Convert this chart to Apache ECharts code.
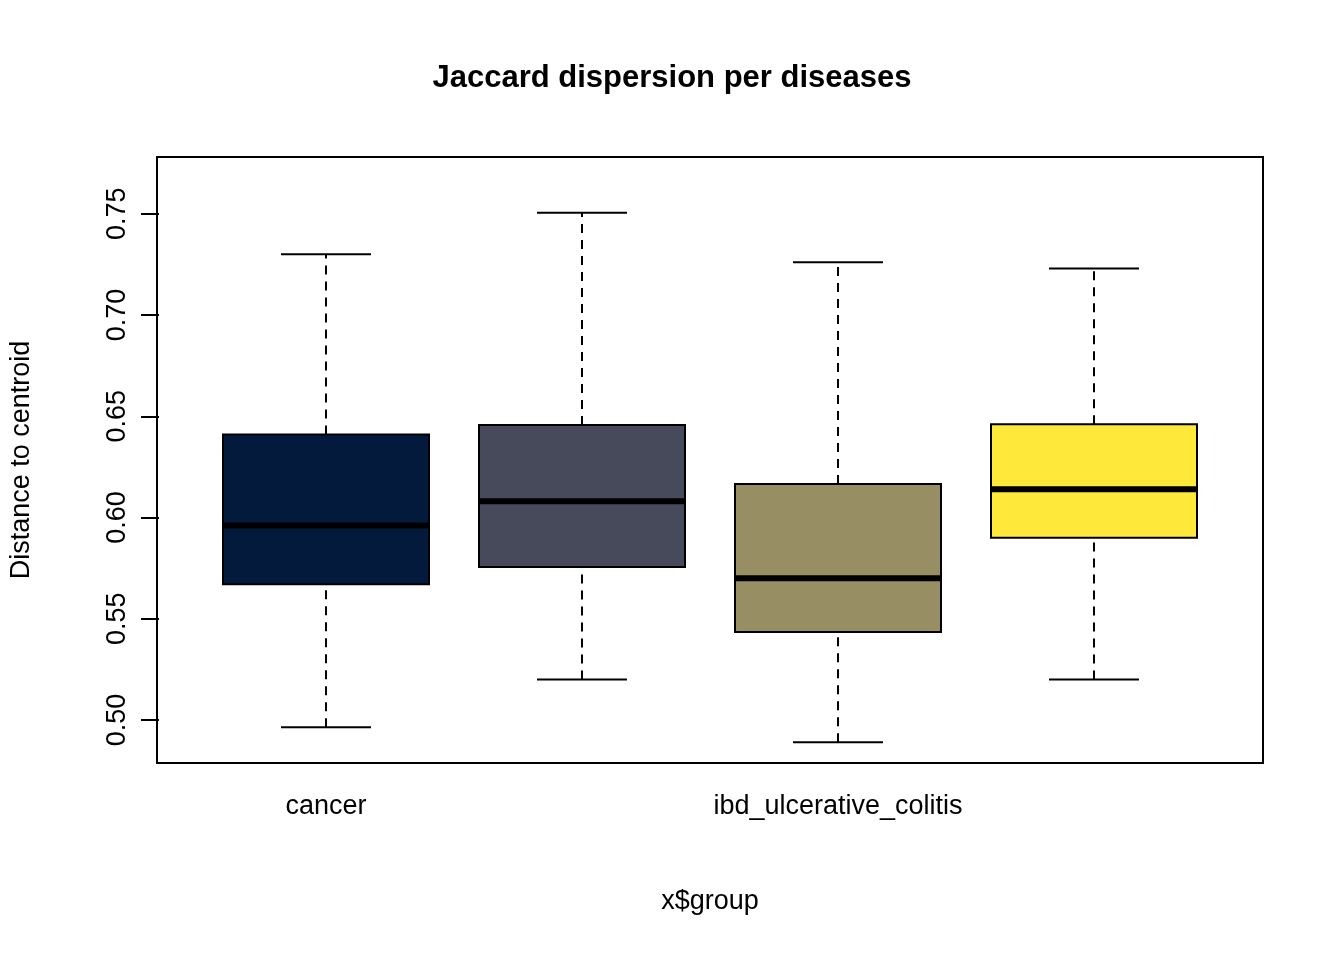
<!DOCTYPE html>
<html><head><meta charset="utf-8">
<script src="https://cdn.jsdelivr.net/npm/echarts@6/dist/echarts.min.js"></script>
<style>html,body{margin:0;background:#fff}#c{width:1344px;height:960px}</style>
</head><body><div id="c"></div>
<script>
var categories = ['cancer', 'cirrhosis', 'ibd_ulcerative_colitis', 't2d'];
// [low whisker, q1, median, q3, high whisker]
var boxStats = [
  [0.4965, 0.567, 0.596, 0.641, 0.730],
  [0.520, 0.5756, 0.608, 0.6457, 0.7505],
  [0.489, 0.5435, 0.570, 0.6166, 0.726],
  [0.520, 0.590, 0.614, 0.646, 0.723]
];
var boxColors = ['#041a3d', '#464a5b', '#988e63', '#fee83a'];
var outliers = [[2, 0.767], [2, 0.760], [2, 0.752], [3, 0.7367], [3, 0.7327]];
var yTicks = [0.50, 0.55, 0.60, 0.65, 0.70, 0.75];
var yMin = 0.4788, yMax = 0.778;

var font = 'Liberation Sans, Arial, sans-serif';
var chart = echarts.init(document.getElementById('c'));
var option = {
  animation: false,
  title: {text: 'Jaccard dispersion per diseases', left: 'center', top: 58,
    textStyle: {fontFamily: font, fontSize: 31, fontWeight: 'bold', color: '#000'}},
  grid: [
    {left: 157, right: 81, top: 157, height: 606},
    {left: 198, width: 1024, top: 157, height: 606}
  ],
  xAxis: [
    {gridIndex: 0, type: 'value', min: 0, max: 1, show: false},
    {gridIndex: 1, type: 'category', data: categories,
      axisLine: {show: false},
      axisTick: {alignWithLabel: true, length: 18, lineStyle: {color: '#000', width: 2}},
      axisLabel: {margin: 30, fontFamily: font, fontSize: 27, color: '#000'},
      name: 'x$group', nameLocation: 'middle', nameGap: 125,
      nameTextStyle: {fontFamily: font, fontSize: 27, color: '#000'}}
  ],
  yAxis: [
    {gridIndex: 0, type: 'value', min: yMin, max: yMax,
      axisLine: {show: false}, splitLine: {show: false},
      axisTick: {show: true, length: 18, customValues: yTicks, lineStyle: {color: '#000', width: 2}},
      axisLabel: {customValues: yTicks, rotate: 90, margin: 28, fontFamily: font, fontSize: 27, color: '#000',
        formatter: function (v) { return v.toFixed(2); }},
      name: 'Distance to centroid', nameLocation: 'middle', nameGap: 124,
      nameTextStyle: {fontFamily: font, fontSize: 27, color: '#000'}},
    {gridIndex: 1, type: 'value', min: yMin, max: yMax, show: false}
  ],
  graphic: [{type: 'rect', shape: {x: 157, y: 157, width: 1106, height: 606},
    style: {fill: null, stroke: '#000', lineWidth: 2}, z: 10}],
  series: [
    {type: 'custom', xAxisIndex: 1, yAxisIndex: 1,
      data: boxStats.map(function (s, i) { return [i].concat(s); }),
      renderItem: function (params, api) {
        var i = api.value(0);
        var x = api.coord([i, 0])[0];
        var y = function (k) { return api.coord([i, api.value(k)])[1]; };
        var hw = 103, cw = 45;
        var ls = {stroke: '#000', lineWidth: 2};
        return {type: 'group', children: [
          {type: 'line', shape: {x1: x, y1: y(1), x2: x, y2: y(2)}, style: {stroke: '#000', lineWidth: 2, lineDash: [9, 7]}},
          {type: 'line', shape: {x1: x, y1: y(4), x2: x, y2: y(5)}, style: {stroke: '#000', lineWidth: 2, lineDash: [9, 7]}},
          {type: 'line', shape: {x1: x - cw, y1: y(1), x2: x + cw, y2: y(1)}, style: ls},
          {type: 'line', shape: {x1: x - cw, y1: y(5), x2: x + cw, y2: y(5)}, style: ls},
          {type: 'rect', shape: {x: x - hw, y: y(4), width: 2 * hw, height: y(2) - y(4)},
            style: {fill: boxColors[i], stroke: '#000', lineWidth: 2}},
          {type: 'line', shape: {x1: x - hw, y1: y(3), x2: x + hw, y2: y(3)}, style: {stroke: '#000', lineWidth: 6}}
        ]};
      }},
    {type: 'scatter', xAxisIndex: 1, yAxisIndex: 1, data: outliers,
      symbol: 'emptyCircle', symbolSize: 15,
      itemStyle: {color: '#fff', borderColor: '#000', borderWidth: 2}}
  ]
};
chart.setOption(option);
</script>
</body></html>
